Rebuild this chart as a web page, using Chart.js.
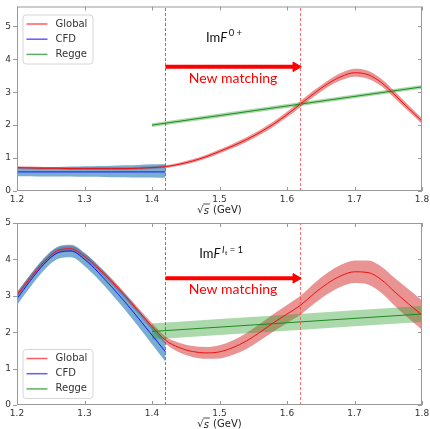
<!DOCTYPE html>
<html>
<head>
<meta charset="utf-8">
<script src="https://cdn.jsdelivr.net/npm/chart.js@4.4.1/dist/chart.umd.min.js"></script>
<style>
  body { margin: 0; background: #fff; }
  #wrap { position: relative; width: 430px; height: 429px; }
  .panel { position: absolute; left: 0; width: 430px; }
  #topBox { top: 0; height: 215px; }
  #bottomBox { top: 215px; height: 214px; }
</style>
</head>
<body>
<div id="wrap">
  <div class="panel" id="topBox"><canvas id="topChart"></canvas></div>
  <div class="panel" id="bottomBox"><canvas id="bottomChart"></canvas></div>
</div>
<script>
// sqrt(s) grids (GeV)
const sqrtS = [1.20, 1.22, 1.24, 1.26, 1.28, 1.30, 1.32, 1.34, 1.36, 1.38, 1.40,
               1.42, 1.44, 1.46, 1.48, 1.50, 1.52, 1.54, 1.56, 1.58, 1.60,
               1.62, 1.64, 1.66, 1.68, 1.70, 1.72, 1.74, 1.76, 1.78, 1.80];
const cfdS = [1.20, 1.22, 1.24, 1.26, 1.28, 1.30, 1.32, 1.34, 1.36, 1.38, 1.40, 1.42];
const reggeS = [1.40, 1.60, 1.80];

// matching window
const cfdEdge = 1.42;
const reggeEdge = 1.62;

// Im F^{0+}
const globalS0 = [0.71, 0.70, 0.69, 0.69, 0.68, 0.68, 0.68, 0.68, 0.68, 0.69, 0.71,
                  0.74, 0.81, 0.91, 1.04, 1.20, 1.37, 1.56, 1.78, 2.03, 2.32,
                  2.64, 2.96, 3.25, 3.47, 3.59, 3.53, 3.29, 2.91, 2.51, 2.12];
const globalS0Err = [0.04, 0.04, 0.04, 0.04, 0.04, 0.04, 0.04, 0.04, 0.04, 0.04, 0.04,
                     0.04, 0.045, 0.05, 0.055, 0.06, 0.065, 0.07, 0.075, 0.08, 0.085,
                     0.09, 0.095, 0.1, 0.11, 0.12, 0.12, 0.11, 0.1, 0.09, 0.085];
const cfdS0 = [0.58, 0.58, 0.58, 0.58, 0.58, 0.58, 0.58, 0.58, 0.58, 0.58, 0.58, 0.58];
const cfdS0Low = [0.45, 0.45, 0.44, 0.44, 0.44, 0.43, 0.43, 0.42, 0.42, 0.41, 0.41, 0.40];
const cfdS0High = [0.72, 0.72, 0.73, 0.73, 0.74, 0.75, 0.76, 0.77, 0.78, 0.79, 0.81, 0.82];
const reggeS0 = [2.00, 2.58, 3.16];
const reggeS0Err = [0.06, 0.06, 0.06];

// Im F^{It=1}
const globalS1 = [3.02, 3.50, 3.93, 4.24, 4.29, 4.08, 3.76, 3.40, 3.00, 2.58, 2.16,
                  1.78, 1.58, 1.47, 1.43, 1.46, 1.58, 1.76, 2.00, 2.26, 2.50,
                  2.74, 3.06, 3.34, 3.55, 3.66, 3.64, 3.44, 3.10, 2.78, 2.47];
const globalS1Err = [0.08, 0.08, 0.08, 0.08, 0.08, 0.08, 0.08, 0.08, 0.08, 0.08, 0.09,
                     0.1, 0.13, 0.15, 0.16, 0.18, 0.2, 0.22, 0.23, 0.24, 0.25,
                     0.26, 0.28, 0.29, 0.3, 0.31, 0.33, 0.36, 0.38, 0.4, 0.4];
const cfdS1 = [2.92, 3.42, 3.87, 4.18, 4.23, 4.00, 3.65, 3.25, 2.83, 2.38, 1.92, 1.46];
const cfdS1Err = [0.17, 0.17, 0.17, 0.17, 0.17, 0.18, 0.19, 0.2, 0.21, 0.23, 0.25, 0.27];
const reggeS1 = [2.02, 2.26, 2.50];
const reggeS1Err = [0.22, 0.22, 0.22];

// "New matching" arrow
const arrowS = [1.42, 1.613];
const arrowS0 = [3.77, 3.77];
const arrowS1 = [3.48, 3.48];

const RED = '#f01010', BLUE = '#1414ff', GREEN = '#1f8a1f';
const RED_FILL = 'rgba(214,39,40,0.5)';
const BLUE_FILL = 'rgba(31,119,180,0.6)';
const GREEN_FILL = 'rgba(44,160,44,0.4)';

Chart.defaults.font.family = '"DejaVu Sans"';
Chart.defaults.font.size = 9;
Chart.defaults.color = '#333';

function pts(xs, ys) {
  return xs.map((x, i) => ({ x: x, y: ys[i] }));
}
function plus(ys, err) { return ys.map((y, i) => y + err[i]); }
function minus(ys, err) { return ys.map((y, i) => y - err[i]); }

function bandSets(xs, lo, hi, color, order) {
  const common = { borderWidth: 0, pointRadius: 0, cubicInterpolationMode: 'monotone', order: order };
  return [
    Object.assign({ data: pts(xs, lo), fill: false }, common),
    Object.assign({ data: pts(xs, hi), fill: '-1', backgroundColor: color }, common)
  ];
}
function curve(xs, ys, color, order) {
  return { data: pts(xs, ys), borderColor: color, borderWidth: 1, pointRadius: 0,
           fill: false, cubicInterpolationMode: 'monotone', order: order };
}
function vline(x, yMax, color) {
  return { data: [{ x: x, y: 0 }, { x: x, y: yMax }], borderColor: color, borderWidth: 0.8,
           borderDash: [3, 2], pointRadius: 0, fill: false, tension: 0, order: 2 };
}
function arrow(xs, ys) {
  return { data: pts(xs, ys), borderColor: 'red', borderWidth: 4, fill: false, tension: 0,
           pointRadius: [0, 5.5], pointStyle: 'triangle', pointRotation: 90,
           pointBackgroundColor: 'red', pointBorderColor: 'red', pointBorderWidth: 1, order: 0 };
}

// ImF with a superscript; kind '0' -> 0+, 't' -> I_t = 1
function drawImF(ctx, x, y, kind) {
  ctx.fillStyle = '#111';
  ctx.textAlign = 'left';
  ctx.textBaseline = 'alphabetic';
  ctx.font = '13px Lato';
  ctx.fillText('Im', x, y);
  x += ctx.measureText('Im').width;
  ctx.font = 'italic 13px Lato';
  ctx.fillText('F', x, y);
  x += ctx.measureText('F').width + 1.5;
  if (kind === '0') {
    ctx.font = '9.5px Lato';
    ctx.fillText('0 +', x, y - 5.5);
  } else {
    ctx.font = 'italic 9.5px Lato';
    ctx.fillText('I', x, y - 5.5);
    x += ctx.measureText('I').width + 0.5;
    ctx.font = '6.5px Lato';
    ctx.fillText('t', x, y - 3.5);
    x += ctx.measureText('t').width;
    ctx.font = '9.5px Lato';
    ctx.fillText(' = 1', x, y - 5.5);
  }
}

function drawAxisTitle(ctx, cx, cy) {
  ctx.fillStyle = '#222';
  ctx.textBaseline = 'middle';
  ctx.textAlign = 'left';
  ctx.font = '10px "DejaVu Sans"';
  const w1 = ctx.measureText('\u221A').width;
  const w3 = ctx.measureText(' (GeV)').width;
  ctx.font = 'italic 10px "DejaVu Sans"';
  const w2 = ctx.measureText('s').width + 1;
  let x = cx - (w1 + w2 + w3) / 2;
  ctx.font = '10px "DejaVu Sans"';
  ctx.fillText('\u221A', x, cy);
  x += w1;
  ctx.font = 'italic 10px "DejaVu Sans"';
  ctx.fillText('s', x, cy + 0.5);
  ctx.strokeStyle = '#222';
  ctx.lineWidth = 0.8;
  ctx.beginPath();
  ctx.moveTo(x - 0.5, cy - 6.5);
  ctx.lineTo(x + w2, cy - 6.5);
  ctx.stroke();
  x += w2;
  ctx.font = '10px "DejaVu Sans"';
  ctx.fillText(' (GeV)', x, cy);
}

function drawLegend(ctx, left, top) {
  const items = [['Global', 'rgba(255,40,40,0.75)'], ['CFD', 'rgba(40,40,255,0.75)'], ['Regge', 'rgba(40,150,40,0.75)']];
  const w = 70, h = 49;
  ctx.fillStyle = 'rgba(255,255,255,0.85)';
  ctx.strokeStyle = '#d6d6d6';
  ctx.lineWidth = 1;
  ctx.beginPath();
  ctx.roundRect(left + 0.5, top + 0.5, w, h, 3);
  ctx.fill();
  ctx.stroke();
  ctx.font = '10px "DejaVu Sans"';
  ctx.textBaseline = 'middle';
  ctx.textAlign = 'left';
  items.forEach((it, i) => {
    const y = top + 9.5 + i * 15.2;
    ctx.strokeStyle = it[1];
    ctx.lineWidth = 1.5;
    ctx.beginPath();
    ctx.moveTo(left + 4, y);
    ctx.lineTo(left + 25, y);
    ctx.stroke();
    ctx.fillStyle = '#333';
    ctx.fillText(it[0], left + 33, y);
  });
}

// frame, inward ticks, legend and labels
const panelPlugin = {
  id: 'panel',
  afterDraw(chart, args, opts) {
    const ctx = chart.ctx;
    const a = chart.chartArea;
    const xs = chart.scales.x, ys = chart.scales.y;
    ctx.save();
    ctx.strokeStyle = '#9a9a9a';
    ctx.lineWidth = 1;
    ctx.strokeRect(a.left + 0.5, a.top + 0.5, a.right - a.left - 1, a.bottom - a.top - 1);
    ctx.beginPath();
    xs.ticks.forEach(t => {
      const px = Math.round(xs.getPixelForValue(t.value)) + 0.5;
      ctx.moveTo(px, a.bottom); ctx.lineTo(px, a.bottom - 4);
      ctx.moveTo(px, a.top); ctx.lineTo(px, a.top + 4);
    });
    ys.ticks.forEach(t => {
      const py = Math.round(ys.getPixelForValue(t.value)) + 0.5;
      ctx.moveTo(a.left - 4, py); ctx.lineTo(a.left, py);
      ctx.moveTo(a.right, py); ctx.lineTo(a.right - 4, py);
    });
    ctx.stroke();

    const arrowY = ys.getPixelForValue(opts.arrowY);
    ctx.fillStyle = 'red';
    ctx.font = '14px Lato';
    ctx.textAlign = 'center';
    ctx.textBaseline = 'middle';
    ctx.fillText('New matching', xs.getPixelForValue(1.52), arrowY + 11.5);

    drawImF(ctx, xs.getPixelForValue(opts.labelX), a.top + 35, opts.kind);

    if (opts.legendBottom) drawLegend(ctx, a.left + 5.5, a.bottom - 56);
    else drawLegend(ctx, a.left + 5.5, a.top + 8);

    drawAxisTitle(ctx, (a.left + a.right) / 2, a.bottom + 19.5);
    ctx.restore();
  }
};

function makePanel(id, datasets, yMax, padTop, opts) {
  return new Chart(document.getElementById(id), {
    type: 'line',
    data: { datasets: datasets },
    plugins: [panelPlugin],
    options: {
      responsive: true,
      maintainAspectRatio: false,
      animation: false,
      layout: { padding: { top: padTop, right: 8, left: 0, bottom: 0 } },
      scales: {
        x: {
          type: 'linear', min: 1.2, max: 1.8,
          grid: { display: false, drawTicks: false }, border: { display: false },
          ticks: { stepSize: 0.1, padding: 3, maxRotation: 0, callback: v => v.toFixed(1) },
          afterFit: s => { s.height = 24; s.paddingLeft = 0; s.paddingRight = 0; }
        },
        y: {
          min: 0, max: yMax,
          grid: { display: false, drawTicks: false }, border: { display: false },
          ticks: { stepSize: 1, padding: 6, callback: v => String(v) },
          afterBuildTicks: s => { s.ticks = s.ticks.filter(t => t.value <= 5); },
          afterFit: s => { s.width = 17; s.paddingTop = 0; s.paddingBottom = 0; }
        }
      },
      plugins: {
        legend: { display: false },
        tooltip: { enabled: false },
        panel: opts
      }
    }
  });
}

const topSets = [].concat(
  bandSets(sqrtS, minus(globalS0, globalS0Err), plus(globalS0, globalS0Err), RED_FILL, 12),
  bandSets(cfdS, cfdS0Low, cfdS0High, BLUE_FILL, 11),
  bandSets(reggeS, minus(reggeS0, reggeS0Err), plus(reggeS0, reggeS0Err), GREEN_FILL, 10),
  [curve(cfdS, cfdS0, BLUE, 4), curve(sqrtS, globalS0, RED, 3), curve(reggeS, reggeS0, GREEN, 3),
   vline(cfdEdge, 5.6, '#4a4aff'), vline(reggeEdge, 5.6, '#ff4a4a'), arrow(arrowS, arrowS0)]
);

const bottomSets = [].concat(
  bandSets(sqrtS, minus(globalS1, globalS1Err), plus(globalS1, globalS1Err), RED_FILL, 12),
  bandSets(cfdS, minus(cfdS1, cfdS1Err), plus(cfdS1, cfdS1Err), BLUE_FILL, 11),
  bandSets(reggeS, minus(reggeS1, reggeS1Err), plus(reggeS1, reggeS1Err), GREEN_FILL, 10),
  [curve(cfdS, cfdS1, BLUE, 4), curve(sqrtS, globalS1, RED, 3), curve(reggeS, reggeS1, GREEN, 3),
   vline(cfdEdge, 5, '#4a4aff'), vline(reggeEdge, 5, '#ff4a4a'), arrow(arrowS, arrowS1)]
);

makePanel('topChart', topSets, 5.6, 6, { arrowY: 3.77, labelX: 1.48, kind: '0', legendBottom: false });
makePanel('bottomChart', bottomSets, 5, 8, { arrowY: 3.48, labelX: 1.47, kind: 't', legendBottom: true });
</script>
</body>
</html>
